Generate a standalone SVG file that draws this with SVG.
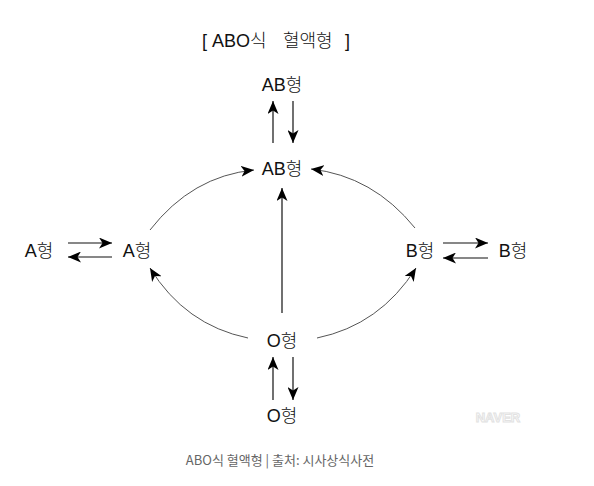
<svg xmlns="http://www.w3.org/2000/svg" width="594" height="486" viewBox="0 0 594 486">
<style>
.t{font-family:"Liberation Sans","Noto Sans CJK KR",sans-serif;font-size:18px;fill:#111;font-weight:300;}
.title{font-family:"Liberation Sans","Noto Sans CJK KR",sans-serif;font-size:18px;fill:#111;font-weight:300;}
.cap{font-family:"Noto Sans CJK KR","Liberation Sans",sans-serif;font-size:13px;fill:#666;}
.s{fill:none;stroke:#111;stroke-width:1.2;}
.c{fill:none;stroke:#555;stroke-width:1;}
</style>
<defs>
<marker id="ah" viewBox="0 0 13 11" refX="13" refY="5.5" markerWidth="13" markerHeight="11" markerUnits="userSpaceOnUse" orient="auto">
<path d="M0,0 L13,5.5 L0,11 L3.5,5.5 z" fill="#000"/>
</marker>
</defs>
<rect width="594" height="486" fill="#fff"/>
<text class="title" y="47"><tspan x="202">[</tspan><tspan x="212">ABO식</tspan><tspan x="283">혈액형</tspan><tspan x="345">]</tspan></text>
<g id="ab-top"><text class="t" x="282" y="91" text-anchor="middle">AB형</text></g>
<g id="ab-mid"><text class="t" x="282" y="175" text-anchor="middle">AB형</text></g>
<g id="a-left"><text class="t" x="39" y="257" text-anchor="middle">A형</text></g>
<g id="a-inner"><text class="t" x="137" y="257" text-anchor="middle">A형</text></g>
<g id="b-inner"><text class="t" x="420" y="257" text-anchor="middle">B형</text></g>
<g id="b-right"><text class="t" x="513" y="257" text-anchor="middle">B형</text></g>
<g id="o-mid"><text class="t" x="282" y="347" text-anchor="middle">O형</text></g>
<g id="o-bot"><text class="t" x="282" y="422" text-anchor="middle">O형</text></g>
<g id="connectors">
<line class="s" x1="273" y1="143" x2="273" y2="101" marker-end="url(#ah)" stroke="#666"/>
<line class="s" x1="293" y1="101" x2="293" y2="143" marker-end="url(#ah)"/>
<line class="s" x1="282" y1="313" x2="282" y2="188" marker-end="url(#ah)"/>
<path class="c" d="M150,230 Q192,176 254,170" marker-end="url(#ah)"/>
<path class="c" d="M415,228 Q373,176 311,169" marker-end="url(#ah)"/>
<path class="c" d="M248,338 Q185,325 150,268" marker-end="url(#ah)"/>
<path class="c" d="M317,338 Q380,325 416,268" marker-end="url(#ah)"/>
<line class="s" x1="68" y1="243" x2="112" y2="243" marker-end="url(#ah)"/>
<line class="s" x1="112" y1="257" x2="68" y2="257" marker-end="url(#ah)"/>
<line class="s" x1="443" y1="243" x2="488" y2="243" marker-end="url(#ah)"/>
<line class="s" x1="488" y1="258" x2="443" y2="258" marker-end="url(#ah)"/>
<line class="s" x1="273" y1="400" x2="273" y2="357" marker-end="url(#ah)" stroke="#666"/>
<line class="s" x1="293" y1="357" x2="293" y2="400" marker-end="url(#ah)"/>
</g>
<text x="498" y="422" text-anchor="middle" font-family="Liberation Sans, sans-serif" font-weight="bold" font-size="13" fill="#fff" stroke="#e2e2e2" stroke-width="1">NAVER</text>
<text class="cap" x="280" y="465" text-anchor="middle">ABO식 혈액형 | 출처: 시사상식사전</text>
</svg>
